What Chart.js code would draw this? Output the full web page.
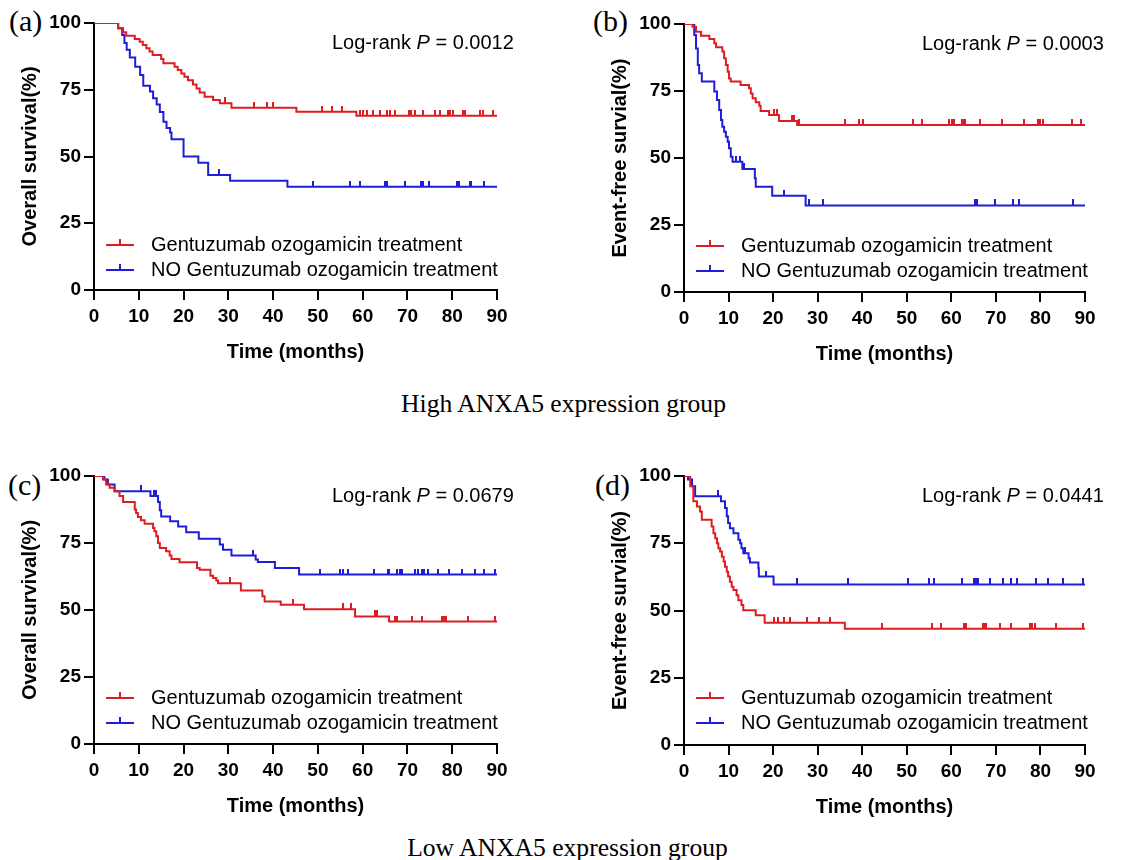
<!DOCTYPE html>
<html>
<head>
<meta charset="utf-8">
<script src="https://cdn.jsdelivr.net/npm/chart.js@4.4.1/dist/chart.umd.min.js"></script>
<style>
  body { margin: 0; background: #fff; width: 1121px; height: 860px; position: relative; overflow: hidden;
         font-family: "Liberation Serif", "Times New Roman", serif; color: #000; }
  canvas { position: absolute; }
  .lbl { position: absolute; font-size: 30px; line-height: 30px; }
  .group { position: absolute; font-size: 25.6px; line-height: 26px; text-align: center; white-space: nowrap; }
</style>
</head>
<body>
<div class="lbl" style="left:9px;top:6px">(a)</div>
<div class="lbl" style="left:593px;top:6px">(b)</div>
<div class="lbl" style="left:8px;top:470px">(c)</div>
<div class="lbl" style="left:595px;top:470px">(d)</div>
<div class="group" style="left:0;width:1127px;top:391px">High ANXA5 expression group</div>
<div class="group" style="left:0;width:1135px;top:835px">Low ANXA5 expression group</div>

<canvas id="chartA" width="560" height="370" style="left:0;top:0"></canvas>
<canvas id="chartB" width="531" height="372" style="left:590px;top:0"></canvas>
<canvas id="chartC" width="560" height="370" style="left:0;top:454px"></canvas>
<canvas id="chartD" width="531" height="373" style="left:590px;top:452px"></canvas>

<script>
// (a) high ANXA5, overall survival
const aRedT = [0, 5.4, 6.5, 7.2, 9.1, 10.2, 10.9, 11.7, 12.4, 13.1, 15.0, 15.5, 18.0, 18.7, 19.5, 20.2, 21.0, 22.1, 22.9, 23.6, 24.7, 26.6, 28.1, 30.7, 45.2, 58.6, 90];
const aRedS = [100, 98.0, 96.5, 95.2, 94.0, 93.0, 91.8, 90.5, 89.3, 88.0, 86.5, 84.9, 83.6, 82.4, 81.1, 79.9, 78.6, 77.0, 75.5, 74.0, 72.4, 71.2, 69.9, 68.3, 66.8, 65.3, 65.3];
const aRedCens = [29.3, 35.7, 38.7, 39.9, 51.0, 53.1, 55.3, 59.3, 60.1, 61.0, 62.4, 63.9, 65.5, 66.1, 67.2, 70.4, 70.9, 71.7, 73.5, 76.1, 77.3, 79.1, 79.6, 80.2, 82.5, 82.8, 86.2, 86.9, 89.2];
const aBlueT = [0, 5.4, 6.3, 6.8, 7.3, 8.0, 9.2, 10.3, 11.0, 12.5, 13.2, 14.0, 14.7, 15.5, 16.2, 17.0, 17.3, 20.0, 23.3, 25.5, 30.4, 43.2, 90];
const aBlueS = [100, 98.0, 95.5, 92.5, 90.0, 87.1, 83.6, 80.5, 76.5, 74.3, 71.8, 69.5, 66.7, 63.0, 60.7, 59.0, 56.5, 50.0, 47.7, 43.1, 40.9, 38.7, 38.7];
const aBlueCens = [27.9, 48.8, 57.2, 59.3, 65.0, 65.4, 69.5, 73.0, 73.4, 74.9, 81.0, 81.6, 84.0, 84.3, 87.0];

// (b) high ANXA5, event-free survival
const bRedT = [0, 1.9, 2.7, 3.8, 5.7, 6.8, 7.2, 8.6, 9.0, 9.4, 9.8, 10.1, 10.5, 12.7, 14.6, 15.0, 15.4, 16.1, 16.9, 17.2, 19.1, 21.3, 25.4, 90];
const bRedS = [100, 99.0, 97.1, 95.6, 94.4, 92.8, 91.3, 89.7, 87.2, 84.7, 82.2, 79.7, 78.5, 77.2, 76.0, 74.1, 72.3, 70.8, 69.5, 67.5, 66.0, 63.8, 62.3, 62.3];
const bRedCens = [20.2, 20.9, 24.3, 24.7, 25.8, 36.2, 39.2, 40.2, 51.3, 53.4, 59.4, 60.1, 60.5, 62.4, 62.7, 63.1, 66.4, 71.3, 76.4, 79.5, 79.9, 80.6, 87.0, 89.2];
const bBlueT = [0, 2.3, 2.7, 3.1, 3.4, 4.0, 6.8, 7.4, 7.9, 8.3, 8.6, 9.0, 9.4, 9.8, 10.1, 10.5, 10.9, 13.1, 15.9, 16.1, 19.8, 27.3, 90];
const bBlueS = [100, 95.9, 90.9, 84.7, 81.6, 78.5, 74.8, 71.6, 67.9, 64.2, 61.7, 59.8, 57.9, 56.1, 53.6, 50.5, 48.6, 45.9, 42.4, 39.3, 35.9, 32.3, 32.3];
const bBlueCens = [11.6, 12.6, 13.5, 22.4, 28.0, 31.2, 65.2, 65.7, 69.8, 73.8, 75.2, 87.3];

// (c) low ANXA5, overall survival
const cRedT = [0, 2.0, 2.7, 3.5, 4.6, 5.7, 6.5, 9.1, 9.4, 9.8, 10.5, 11.3, 13.2, 13.5, 13.9, 14.3, 14.7, 16.1, 16.9, 17.3, 19.1, 23.0, 23.6, 26.0, 26.6, 27.3, 27.7, 32.8, 37.6, 38.1, 41.7, 46.9, 58.3, 65.9, 90];
const cRedS = [100, 98.7, 96.8, 95.6, 94.3, 92.5, 90.3, 87.5, 86.2, 84.7, 83.5, 82.2, 80.6, 79.4, 77.5, 75.0, 73.1, 71.9, 70.3, 69.0, 67.8, 65.7, 65.0, 62.8, 61.9, 61.0, 60.0, 57.3, 55.1, 53.2, 52.0, 50.3, 47.6, 45.7, 45.7];
const cRedCens = [30.3, 44.5, 55.7, 57.4, 62.8, 63.1, 67.2, 67.6, 71.0, 73.2, 77.7, 78.2, 78.6, 83.6, 89.6];
const cBlueT = [0, 2.3, 3.1, 4.6, 12.6, 14.3, 14.7, 15.0, 17.0, 18.8, 20.6, 23.4, 28.1, 28.8, 30.7, 36.1, 36.6, 40.4, 45.8, 90];
const cBlueS = [100, 98.7, 96.8, 94.3, 92.5, 90.3, 87.2, 84.9, 83.1, 81.2, 79.0, 76.6, 74.4, 72.5, 70.3, 68.8, 67.9, 65.7, 63.2, 63.2];
const cBlueCens = [10.4, 13.4, 13.9, 35.5, 50.4, 54.9, 55.7, 56.8, 62.6, 65.6, 65.9, 67.7, 68.3, 68.7, 71.7, 72.3, 73.2, 73.8, 74.5, 76.9, 79.2, 82.1, 85.1, 87.2, 89.6];

// (d) low ANXA5, event-free survival
const dRedT = [0, 1.4, 2.1, 2.9, 3.6, 4.0, 6.2, 6.6, 7.0, 7.4, 7.7, 8.1, 8.5, 8.9, 9.2, 9.6, 9.9, 10.3, 10.7, 11.1, 11.8, 12.2, 12.9, 13.3, 16.1, 18.1, 36.1, 90];
const dRedS = [100, 96.2, 90.6, 88.7, 86.8, 83.7, 81.2, 78.7, 76.9, 75.0, 73.1, 71.9, 70.0, 68.2, 66.3, 64.4, 62.6, 60.7, 58.8, 57.6, 55.7, 53.8, 52.0, 50.1, 48.2, 45.4, 43.2, 43.2];
const dRedCens = [20.3, 21.2, 22.5, 23.9, 27.5, 30.4, 32.8, 44.4, 55.7, 57.6, 62.9, 63.2, 67.0, 67.4, 67.8, 70.9, 73.5, 77.6, 78.0, 78.7, 83.6, 89.6];
const dBlueT = [0, 0.9, 1.8, 2.5, 8.3, 9.2, 9.6, 9.9, 10.3, 11.1, 12.2, 12.6, 12.9, 13.3, 14.5, 14.8, 16.7, 16.8, 20.1, 90];
const dBlueS = [100, 98.7, 96.2, 92.5, 90.6, 88.1, 85.0, 82.5, 80.6, 78.7, 76.3, 75.0, 73.1, 71.3, 69.4, 67.8, 65.7, 62.6, 59.7, 59.7];
const dBlueCens = [7.6, 13.7, 18.4, 25.3, 36.7, 50.3, 55.0, 56.0, 62.5, 65.0, 65.5, 65.9, 68.6, 71.6, 73.5, 74.8, 79.1, 81.7, 85.1, 89.6];

const xTicks = [0, 10, 20, 30, 40, 50, 60, 70, 80, 90];
const yTicks = [0, 25, 50, 75, 100];
const legendLabels = ["Gentuzumab ozogamicin treatment", "NO Gentuzumab ozogamicin treatment"];

const RED = "#dc1e24";
const BLUE = "#1e1ed6";
const SANS = '"Liberation Sans", Arial, Helvetica, sans-serif';

// censor mark: short vertical tick sitting on top of the curve
function tickMark(color) {
  const c = document.createElement("canvas");
  c.width = 2;
  c.height = 12;
  const g = c.getContext("2d");
  g.fillStyle = color;
  g.fillRect(0, 0, 2, 6);
  return c;
}

function steps(T, S) {
  return T.map((t, i) => ({ x: t, y: S[i] }));
}

function survAt(T, S, t) {
  let v = S[0];
  for (let i = 0; i < T.length; i++) if (T[i] <= t) v = S[i];
  return v;
}

function cens(C, T, S) {
  return C.map(t => ({ x: t, y: survAt(T, S, t) }));
}

// Log-rank text and the legend drawn inside the plot area
const overlay = {
  id: "overlay",
  afterDraw(chart, args, opts) {
    const { ctx, chartArea } = chart;
    const { left, top } = chartArea;
    ctx.save();
    ctx.fillStyle = "#000";
    ctx.textBaseline = "middle";
    let x = left + 238;
    const y = top + 20;
    ctx.font = "20px " + SANS;
    ctx.fillText("Log-rank ", x, y);
    x += ctx.measureText("Log-rank ").width;
    ctx.font = "italic 20px " + SANS;
    ctx.fillText("P", x, y);
    x += ctx.measureText("P").width;
    ctx.font = "20px " + SANS;
    ctx.fillText(" = " + opts.p, x, y);

    [[RED, legendLabels[0], 222], [BLUE, legendLabels[1], 247]].forEach(([col, txt, dy]) => {
      const ly = top + dy;
      ctx.strokeStyle = col;
      ctx.lineWidth = 2;
      ctx.beginPath();
      ctx.moveTo(left + 12, ly);
      ctx.lineTo(left + 40, ly);
      ctx.moveTo(left + 26, ly);
      ctx.lineTo(left + 26, ly - 6);
      ctx.stroke();
      ctx.fillStyle = "#000";
      ctx.font = "20px " + SANS;
      ctx.fillText(txt, left + 57, ly);
    });
    ctx.restore();
  }
};

function makePanel(id, yTitle, p, redT, redS, redC, blueT, blueS, blueC, padTop, padRight) {
  const axisCommon = {
    type: "linear",
    grid: { drawOnChartArea: false, color: "#000", lineWidth: 2, tickLength: 10, tickWidth: 2 },
    border: { color: "#000", width: 2 },
  };
  new Chart(document.getElementById(id), {
    type: "line",
    data: {
      datasets: [
        { data: steps(redT, redS), borderColor: RED, borderWidth: 2, stepped: true, pointRadius: 0, fill: false },
        { data: steps(blueT, blueS), borderColor: BLUE, borderWidth: 2, stepped: true, pointRadius: 0, fill: false },
        { data: cens(redC, redT, redS), showLine: false, pointStyle: tickMark(RED), pointRadius: 3 },
        { data: cens(blueC, blueT, blueS), showLine: false, pointStyle: tickMark(BLUE), pointRadius: 3 },
      ],
    },
    options: {
      responsive: false,
      animation: false,
      events: [],
      layout: { padding: { top: padTop, right: padRight, left: 0, bottom: 0 } },
      plugins: {
        legend: { display: false },
        tooltip: { enabled: false },
        overlay: { p: p },
      },
      scales: {
        x: {
          ...axisCommon,
          min: 0,
          max: 90,
          afterBuildTicks: s => { s.ticks = xTicks.map(v => ({ value: v })); },
          ticks: { color: "#000", font: { family: SANS, size: 19, weight: "bold" }, padding: 5, maxRotation: 0 },
          title: { display: true, text: "Time (months)", color: "#000", font: { family: SANS, size: 20, weight: "bold" }, padding: { top: 0, bottom: 6 } },
          afterFit: s => { s.height = 80; },
        },
        y: {
          ...axisCommon,
          min: 0,
          max: 100,
          afterBuildTicks: s => { s.ticks = yTicks.map(v => ({ value: v })); },
          ticks: { color: "#000", font: { family: SANS, size: 19, weight: "bold" }, padding: 3 },
          title: { display: true, text: yTitle, color: "#000", font: { family: SANS, size: 20, weight: "bold" }, padding: { top: 18, bottom: 0 } },
          afterFit: s => { s.width = 94; },
        },
      },
    },
    plugins: [overlay],
  });
}

makePanel("chartA", "Overall survival(%)", "0.0012", aRedT, aRedS, aRedCens, aBlueT, aBlueS, aBlueCens, 23, 63);
makePanel("chartB", "Event-free survial(%)", "0.0003", bRedT, bRedS, bRedCens, bBlueT, bBlueS, bBlueCens, 24, 36);
makePanel("chartC", "Overall survival(%)", "0.0679", cRedT, cRedS, cRedCens, cBlueT, cBlueS, cBlueCens, 22, 63);
makePanel("chartD", "Event-free survial(%)", "0.0441", dRedT, dRedS, dRedCens, dBlueT, dBlueS, dBlueCens, 24, 36);
</script>
</body>
</html>
